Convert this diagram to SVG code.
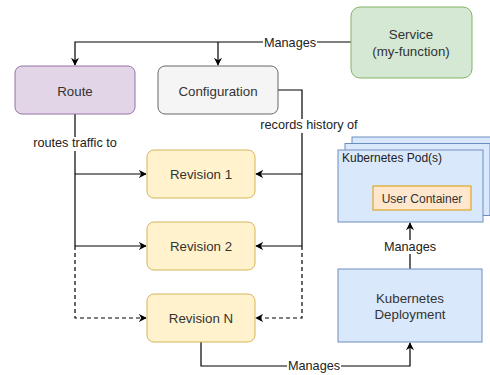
<svg xmlns="http://www.w3.org/2000/svg" width="490" height="375" viewBox="0 0 490 375">
<defs>
<marker id="arr" viewBox="0 0 10 10" refX="9" refY="5" markerWidth="8" markerHeight="8" markerUnits="userSpaceOnUse" orient="auto">
<path d="M0,0 L10,5 L0,10 L3,5 Z" fill="#000"/>
</marker>
<style>
.lbl{font-family:"Liberation Sans",Arial,sans-serif;font-size:13.3px;fill:#333;text-anchor:middle}
.elbl{font-family:"Liberation Sans",Arial,sans-serif;font-size:12.7px;fill:#222;text-anchor:middle}
.edge{fill:none;stroke:#000;stroke-width:1.2}
.dash{stroke-dasharray:4 3}
.rev{fill:#fff2cc;stroke:#d6b656}
.k8s{fill:#dae8fc;stroke:#6c8ebf}
</style>
</defs>
<rect width="490" height="375" fill="#fff"/>
<g id="connectors">
<path class="edge" d="M351,42 H75 V65" marker-end="url(#arr)"/>
<path class="edge" d="M218,42 V65" marker-end="url(#arr)"/>
<path class="edge" d="M75,114 V246"/>
<path class="edge" d="M75,174 H146" marker-end="url(#arr)"/>
<path class="edge" d="M75,246 H146" marker-end="url(#arr)"/>
<path class="edge dash" d="M75,246 V318 H146" marker-end="url(#arr)"/>
<path class="edge" d="M278,90 H302 V246"/>
<path class="edge" d="M302,174 H256" marker-end="url(#arr)"/>
<path class="edge" d="M302,246 H256" marker-end="url(#arr)"/>
<path class="edge dash" d="M302,246 V318 H256" marker-end="url(#arr)"/>
<path class="edge" d="M201,342 V366 H410 V343" marker-end="url(#arr)"/>
<path class="edge" d="M410,269 V223" marker-end="url(#arr)"/>
<rect x="263" y="36" width="54" height="14" fill="#fff"/>
<text class="elbl" x="290" y="47">Manages</text>
<rect x="31" y="137" width="88" height="14" fill="#fff"/>
<text class="elbl" x="75" y="147">routes traffic to</text>
<rect x="257" y="119" width="104" height="14" fill="#fff"/>
<text class="elbl" x="309" y="129">records history of</text>
<rect x="383" y="240" width="54" height="14" fill="#fff"/>
<text class="elbl" x="410" y="251">Manages</text>
<rect x="287" y="360" width="54" height="14" fill="#fff"/>
<text class="elbl" x="314" y="370">Manages</text>
</g>
<g id="service">
<rect x="351" y="7" width="121" height="71" rx="9" fill="#d5e8d4" stroke="#82b366"/>
<text class="lbl" x="411" y="39">Service</text>
<text class="lbl" x="411" y="56">(my-function)</text>
</g>
<g id="route">
<rect x="15" y="66" width="120" height="48" rx="7" fill="#e1d5e7" stroke="#9673a6"/>
<text class="lbl" x="75" y="96">Route</text>
</g>
<g id="configuration">
<rect x="158" y="66" width="120" height="48" rx="7" fill="#f5f5f5" stroke="#666"/>
<text class="lbl" x="218" y="96">Configuration</text>
</g>
<g id="revision1">
<rect class="rev" x="147" y="150" width="108" height="48" rx="7"/>
<text class="lbl" x="201" y="179">Revision 1</text>
</g>
<g id="revision2">
<rect class="rev" x="147" y="222" width="108" height="48" rx="7"/>
<text class="lbl" x="201" y="251">Revision 2</text>
</g>
<g id="revisionN">
<rect class="rev" x="147" y="294" width="108" height="48" rx="7"/>
<text class="lbl" x="201" y="323">Revision N</text>
</g>
<g id="pods">
<rect class="k8s" x="352" y="137" width="145" height="72"/>
<rect class="k8s" x="345" y="143.5" width="145" height="72"/>
<rect class="k8s" x="338" y="150" width="145" height="72"/>
<text x="342" y="162" style="font-family:'Liberation Sans',Arial,sans-serif;font-size:12px;fill:#222">Kubernetes Pod(s)</text>
</g>
<g id="user-container">
<rect x="373" y="186" width="98" height="24" fill="#ffe6cc" stroke="#d79b00"/>
<text x="422" y="203" style="font-family:'Liberation Sans',Arial,sans-serif;font-size:12px;fill:#333;text-anchor:middle">User Container</text>
</g>
<g id="deployment">
<rect class="k8s" x="338" y="269" width="144" height="73"/>
<text class="lbl" x="410" y="303">Kubernetes</text>
<text class="lbl" x="410" y="319">Deployment</text>
</g>
</svg>
